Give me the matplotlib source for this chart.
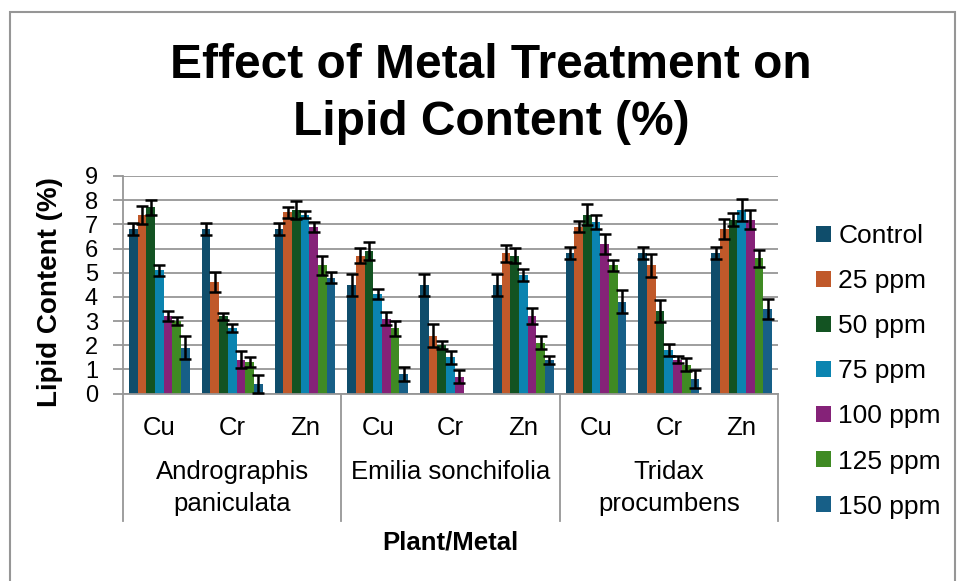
import numpy as np
import matplotlib.pyplot as plt
from matplotlib.patches import Rectangle
from matplotlib.transforms import blended_transform_factory

plt.rcParams['font.family'] = ['Liberation Sans', 'DejaVu Sans']

plants = ['Andrographis\npaniculata', 'Emilia sonchifolia', 'Tridax\nprocumbens']
metals = ['Cu', 'Cr', 'Zn']
series = ['Control', '25 ppm', '50 ppm', '75 ppm', '100 ppm', '125 ppm', '150 ppm']

# order: A.p. Cu, Cr, Zn / E.s. Cu, Cr, Zn / T.p. Cu, Cr, Zn
control = [6.8, 6.8, 6.8, 4.5, 4.5, 4.5, 5.8, 5.8, 5.8]
ppm25 = [7.4, 4.6, 7.5, 5.7, 2.4, 5.8, 6.9, 5.3, 6.8]
ppm50 = [7.7, 3.2, 7.6, 5.9, 2.0, 5.7, 7.4, 3.4, 7.2]
ppm75 = [5.1, 2.7, 7.4, 4.1, 1.5, 4.9, 7.1, 1.8, 7.6]
ppm100 = [3.2, 1.4, 6.9, 3.1, 0.7, 3.2, 6.2, 1.4, 7.2]
ppm125 = [3.0, 1.3, 5.3, 2.7, 0.0, 2.1, 5.3, 1.2, 5.6]
ppm150 = [1.9, 0.4, 4.8, 0.8, 0.0, 1.4, 3.8, 0.6, 3.5]

err_control = [0.26, 0.26, 0.26, 0.46, 0.46, 0.46, 0.25, 0.25, 0.25]
err25 = [0.37, 0.41, 0.23, 0.31, 0.46, 0.36, 0.22, 0.46, 0.41]
err50 = [0.31, 0.15, 0.37, 0.36, 0.16, 0.32, 0.43, 0.46, 0.26]
err75 = [0.23, 0.17, 0.15, 0.21, 0.26, 0.26, 0.28, 0.26, 0.46]
err100 = [0.21, 0.35, 0.21, 0.28, 0.26, 0.32, 0.41, 0.15, 0.41]
err125 = [0.15, 0.21, 0.40, 0.31, 0.0, 0.26, 0.22, 0.26, 0.35]
err150 = [0.46, 0.36, 0.21, 0.30, 0.0, 0.17, 0.47, 0.36, 0.42]

values = [control, ppm25, ppm50, ppm75, ppm100, ppm125, ppm150]
errors = [err_control, err25, err50, err75, err100, err125, err150]
colors = ['#0f4d6b', '#c0592a', '#135322', '#0b84b0', '#852278', '#3f8a23', '#175f87']

grey = '#969696'

fig = plt.figure(figsize=(9.58, 5.81), dpi=100)
ax = fig.add_axes([123 / 958, 1 - 393.5 / 581, 655 / 958, 217.5 / 581])

x = np.arange(len(control))
width = 0.835 / len(series)
for i, (vals, errs) in enumerate(zip(values, errors)):
    pos = x - 0.835 / 2 + width * (i + 0.5)
    ax.bar(pos, vals, width, color=colors[i], label=series[i], zorder=2)
    vals = np.array(vals)
    errs = np.array(errs)
    keep = vals > 0
    ax.errorbar(pos[keep], vals[keep], yerr=errs[keep], fmt='none', ecolor='black',
                elinewidth=1.8, capsize=4.5, capthick=1.8, zorder=3)

ax.set_xlim(-0.5, len(control) - 0.5)
ax.set_ylim(0, 9)
ax.set_yticks(range(10))
ax.yaxis.grid(True, color=grey, linewidth=1.3, zorder=0)
ax.set_axisbelow(True)
for s in ['top', 'right']:
    ax.spines[s].set_visible(False)
ax.spines['left'].set_color(grey)
ax.spines['bottom'].set_color(grey)
ax.spines['left'].set_linewidth(1.3)
ax.spines['bottom'].set_linewidth(1.3)
ax.tick_params(axis='y', length=7, width=1.3, color=grey, labelsize=17, pad=11)
ax.set_xticks(x)
ax.set_xticklabels(metals * len(plants), fontsize=18.5)
ax.tick_params(axis='x', length=0, pad=16)

# plant group labels and separators
tr = blended_transform_factory(ax.transData, fig.transFigure)
for k, name in enumerate(plants):
    ax.text(k * 3 + 1, 1 - 460 / 581, name, transform=tr, ha='center', va='top',
            fontsize=18.5, linespacing=1.42)
for b in np.arange(len(plants) + 1) * 3 - 0.5:
    ax.plot([b, b], [1 - 393.5 / 581, 1 - 521 / 581], transform=tr, color=grey,
            linewidth=1.3, clip_on=False)

fig.text(450 / 958, 1 - 542 / 581, 'Plant/Metal', ha='center', va='center',
         fontsize=18.5, fontweight='bold')
fig.text(50 / 958, 1 - 292 / 581, 'Lipid Content (%)', ha='center', va='center',
         rotation=90, fontsize=20, fontweight='bold')
fig.text(491 / 958, 1 - 94 / 581, 'Effect of Metal Treatment on\nLipid Content (%)',
         ha='center', va='center', fontsize=34.5, fontweight='bold', linespacing=1.32)

fig.legend(loc='upper left', bbox_to_anchor=(816 / 958, 1 - 224 / 581), frameon=False,
           fontsize=19, handlelength=0.55, handleheight=0.55, handletextpad=0.3,
           labelspacing=0.8, borderpad=0, borderaxespad=0)

# chart frame
fig.patches.append(Rectangle((10 / 958, -0.1), 945 / 958, 1.1 - 12 / 581,
                             transform=fig.transFigure, fill=False,
                             edgecolor=grey, linewidth=1.5))

fig.savefig('out.png', dpi=100)
